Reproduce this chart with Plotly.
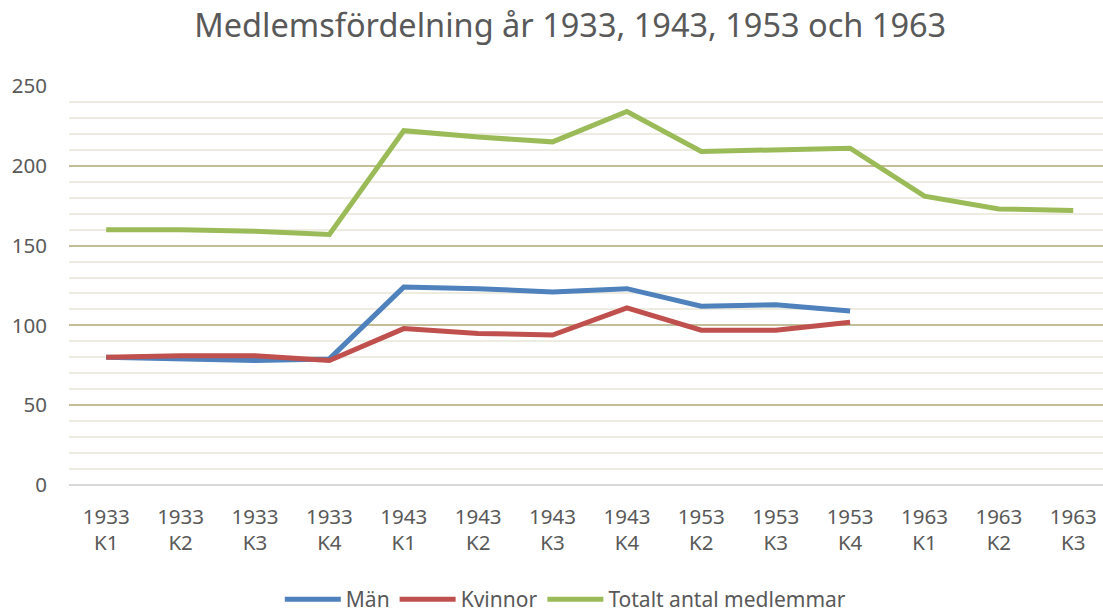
import plotly.graph_objects as go

categories = ["1933<br>K1", "1933<br>K2", "1933<br>K3", "1933<br>K4",
              "1943<br>K1", "1943<br>K2", "1943<br>K3", "1943<br>K4",
              "1953<br>K2", "1953<br>K3", "1953<br>K4",
              "1963<br>K1", "1963<br>K2", "1963<br>K3"]
man = [80, 79, 78, 79, 124, 123, 121, 123, 112, 113, 109, None, None, None]
kvinnor = [80, 81, 81, 78, 98, 95, 94, 111, 97, 97, 102, None, None, None]
totalt = [160, 160, 159, 157, 222, 218, 215, 234, 209, 210, 211, 181, 173, 172]

FONT = "Noto Sans"
GREY = "#595959"

fig = go.Figure()
for name, vals, col in [("Män", man, "#4F81BD"),
                        ("Kvinnor", kvinnor, "#C0504D"),
                        ("Totalt antal medlemmar", totalt, "#9BBB59")]:
    fig.add_trace(go.Scatter(x=list(range(len(categories))), y=vals, name=name,
                             mode="lines", line=dict(color=col, width=5),
                             connectgaps=False))

fig.update_layout(
    width=1103, height=613,
    margin=dict(l=69, r=0, t=86, b=128),
    paper_bgcolor="white", plot_bgcolor="white",
    title=dict(text="Medlemsfördelning år 1933, 1943, 1953 och 1963",
               x=0.517, xref="container", xanchor="center",
               y=0.958, yref="container", yanchor="middle",
               font=dict(family=FONT, size=32.5, color=GREY)),
    xaxis=dict(tickmode="array", tickvals=list(range(len(categories))),
               ticktext=categories, range=[-0.5, 13.4], showgrid=False,
               zeroline=False, showline=False, ticks="",
               ticklabelstandoff=17,
               tickfont=dict(family=FONT, size=20.5, color=GREY)),
    yaxis=dict(range=[0, 250], dtick=50, tick0=0, showgrid=True,
               gridcolor="#C4BD97", gridwidth=2, zeroline=True,
               zerolinecolor="#D9D9D9", zerolinewidth=2, showline=False,
               ticks="", ticklabelstandoff=21,
               tickfont=dict(family=FONT, size=20.5, color=GREY),
               minor=dict(dtick=10, showgrid=True, gridcolor="#EEECE1",
                          gridwidth=2)),
    legend=dict(orientation="h", x=0.48, xanchor="center",
                y=0.022, yref="container", yanchor="middle",
                font=dict(family=FONT, size=21, color=GREY),
                itemwidth=56, tracegroupgap=0),
    showlegend=True,
)

fig.write_html("out.html", config={"displayModeBar": False},
               post_script="document.body.style.margin='0';")
